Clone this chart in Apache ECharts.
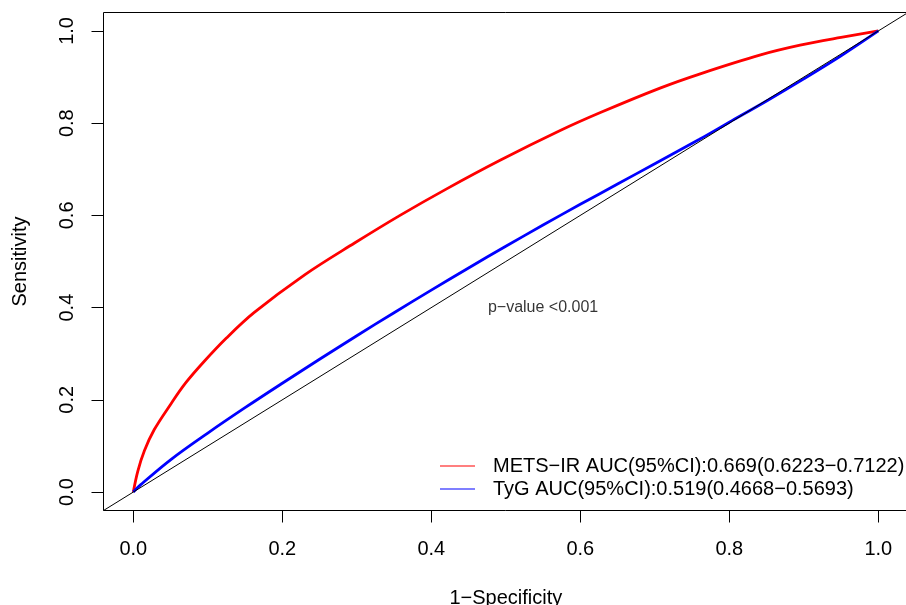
<!DOCTYPE html>
<html>
<head>
<meta charset="utf-8">
<script src="https://cdn.jsdelivr.net/npm/echarts@6/dist/echarts.min.js"></script>
<style>
  html, body { margin: 0; padding: 0; background: #fff; }
  #chart { width: 906px; height: 605px; }
</style>
</head>
<body>
<div id="chart"></div>
<script>
// ROC curve: METS-IR (false positive rate, sensitivity)
const fprMets = [0, 0.006, 0.015, 0.028, 0.05, 0.07, 0.095, 0.125, 0.162, 0.23, 0.297, 0.358, 0.42, 0.493, 0.573, 0.627, 0.707, 0.761, 0.842, 0.895, 0.95, 1];
const tprMets = [0, 0.045, 0.09, 0.135, 0.19, 0.236, 0.283, 0.334, 0.389, 0.471, 0.540, 0.600, 0.657, 0.720, 0.784, 0.823, 0.876, 0.907, 0.948, 0.969, 0.986, 1];

// ROC curve: TyG
const fprTyg = [0, 0.01, 0.05, 0.1, 0.15, 0.2, 0.25, 0.3, 0.35, 0.4, 0.45, 0.5, 0.55, 0.6, 0.65, 0.7, 0.76, 0.8, 0.85, 0.9, 0.95, 1];
const tprTyg = [0, 0.016, 0.07, 0.128, 0.183, 0.236, 0.288, 0.339, 0.389, 0.438, 0.486, 0.533, 0.579, 0.624, 0.668, 0.712, 0.765, 0.802, 0.848, 0.896, 0.946, 1];

const seriesNames = [
  'METS\u2212IR AUC(95%CI):0.669(0.6223\u22120.7122)',
  'TyG AUC(95%CI):0.519(0.4668\u22120.5693)'
];

// axis ticks and plotting range (4% padding either side)
const tickValues = [0, 0.2, 0.4, 0.6, 0.8, 1.0];
const axisMin = -0.04;
const axisMax = 1.04;

// chance diagonal
const diagX = [axisMin, axisMax];

// annotation anchor
const annotText = 'p\u2212value <0.001';
const annotX = 0.55;
const annotY = 0.4;

const FONT = '"Liberation Sans", Arial, Helvetica, sans-serif';

function pairs(xs, ys) { return xs.map((x, i) => [x, ys[i]]); }

const chart = echarts.init(document.getElementById('chart'), null, { renderer: 'canvas' });

const axisCommon = {
  type: 'value',
  min: axisMin,
  max: axisMax,
  axisLine: { show: false, onZero: false },
  splitLine: { show: false },
  axisTick: {
    show: true,
    inside: false,
    customValues: tickValues,
    length: 12,
    lineStyle: { color: '#000', width: 1 }
  },
  nameLocation: 'middle',
  nameTextStyle: { fontFamily: FONT, fontSize: 20, color: '#000' }
};

chart.setOption({
  animation: false,
  backgroundColor: '#fff',
  textStyle: { fontFamily: FONT },
  grid: {
    show: true,
    left: 103.5,
    top: 12.5,
    width: 804.6,
    height: 498,
    containLabel: false,
    outerBoundsMode: 'none',
    borderColor: '#000',
    borderWidth: 1,
    backgroundColor: 'transparent'
  },
  xAxis: Object.assign({}, axisCommon, {
    name: '1\u2212Specificity',
    nameGap: 78,
    axisLabel: {
      customValues: tickValues,
      formatter: v => v.toFixed(1),
      fontFamily: FONT, fontSize: 20, color: '#000', margin: 29
    }
  }),
  yAxis: Object.assign({}, axisCommon, {
    name: 'Sensitivity',
    nameGap: 73,
    axisLabel: {
      customValues: tickValues,
      formatter: v => v.toFixed(1),
      rotate: 90,
      fontFamily: FONT, fontSize: 20, color: '#000', margin: 26
    }
  }),
  legend: {
    data: seriesNames,
    orient: 'vertical',
    left: 440,
    top: 456,
    padding: 0,
    itemGap: 3,
    icon: 'rect',
    itemWidth: 35,
    itemHeight: 1.2,
    textStyle: { fontFamily: FONT, fontSize: 20, color: '#000', padding: [0, 0, 0, 13] }
  },
  series: [
    {
      name: seriesNames[0],
      type: 'line',
      data: pairs(fprMets, tprMets),
      showSymbol: false,
      symbol: 'none',
      smooth: 0.35,
      lineStyle: { color: '#ff0000', width: 2.8 },
      itemStyle: { color: '#ff0000' },
      z: 2
    },
    {
      name: seriesNames[1],
      type: 'line',
      data: pairs(fprTyg, tprTyg),
      showSymbol: false,
      symbol: 'none',
      smooth: 0.35,
      lineStyle: { color: '#0000ff', width: 2.8 },
      itemStyle: { color: '#0000ff' },
      z: 3
    },
    {
      name: 'diagonal',
      type: 'line',
      data: pairs(diagX, diagX),
      showSymbol: false,
      symbol: 'none',
      lineStyle: { color: '#000', width: 1 },
      silent: true,
      z: 4
    },
    {
      name: 'annotation',
      type: 'scatter',
      data: [[annotX, annotY]],
      symbolSize: 0.1,
      itemStyle: { color: 'transparent' },
      silent: true,
      label: {
        show: true,
        position: 'inside',
        formatter: annotText,
        fontFamily: FONT,
        fontSize: 16,
        color: '#000'
      }
    }
  ]
});
</script>
</body>
</html>
